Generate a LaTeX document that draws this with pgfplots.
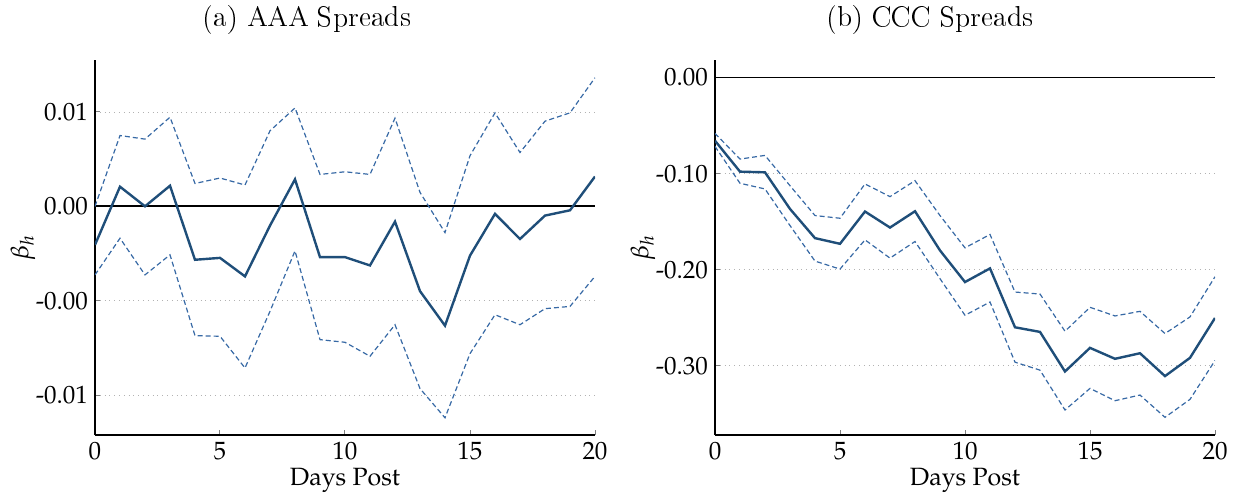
\documentclass[border=0pt]{standalone}
\usepackage[T1]{fontenc}
\usepackage{mathpazo}
\usepackage{pgfplots}
\pgfplotsset{compat=1.18}

\definecolor{mainblue}{RGB}{31,78,121}
\definecolor{dashblue}{RGB}{55,105,165}

\pgfplotsset{
 myaxis/.style={
  scale only axis, width=250pt, height=187.5pt,
  xmin=0, xmax=20, xtick={0,5,10,15,20},
  axis x line*=bottom, axis y line*=left,
  axis line style={-, line width=1pt, black},
  tick align=inside, major tick length=2.5pt,
  tick style={gray, line width=0.5pt},
  ymajorgrids, grid style={dotted, gray!60, line width=0.4pt},
  scaled y ticks=false,
  tick label style={font=\fontsize{12.5}{14}\selectfont},
  /pgf/number format/assume math mode=true,
  xlabel={Days Post}, ylabel={$\beta_h$},
  label style={font=\fontsize{12.5}{14}\selectfont},
  xlabel style={at={(axis description cs:0.5,-0.12)}, anchor=center},
  ylabel style={at={(axis description cs:-0.144,0.5)}, anchor=center},
 },
 mainline/.style={mainblue, line width=1.2pt},
 bandline/.style={dashblue, line width=0.6pt, dash pattern=on 2.5pt off 1.5pt},
}

\begin{document}
\begin{tikzpicture}
\useasboundingbox (0,0) rectangle (619.5pt,249.5pt);

\node[font=\fontfamily{lmr}\fontsize{14.2}{16}\selectfont] at (153.5pt,240pt) {(a) AAA Spreads};
\node[font=\fontfamily{lmr}\fontsize{14.2}{16}\selectfont] at (465pt,240pt) {(b) CCC Spreads};

\begin{axis}[myaxis, at={(47.5pt,32pt)}, anchor=south west,
  ymin=-0.01211, ymax=0.00775,
  ytick={-0.01,-0.005,0,0.005}, yticklabels={-0.01,-0.00,0.00,0.01}]
\addplot[black, line width=0.9pt] coordinates {(0,0) (20,0)};
\addplot[bandline] coordinates {
(0,0.0000) (1,0.00375) (2,0.00356) (3,0.00472) (4,0.00121) (5,0.00150)
(6,0.00113) (7,0.00400) (8,0.00521) (9,0.00169) (10,0.00183) (11,0.00169)
(12,0.00467) (13,0.00074) (14,-0.00139) (15,0.00268) (16,0.00495) (17,0.00285)
(18,0.00451) (19,0.00495) (20,0.00681)};
\addplot[bandline] coordinates {
(0,-0.00363) (1,-0.00169) (2,-0.00363) (3,-0.00257) (4,-0.00685) (5,-0.00688)
(6,-0.00856) (7,-0.00556) (8,-0.00236) (9,-0.00706) (10,-0.00720) (11,-0.00794)
(12,-0.00627) (13,-0.00965) (14,-0.01120) (15,-0.00780) (16,-0.00574) (17,-0.00627)
(18,-0.00542) (19,-0.00530) (20,-0.00371)};
\addplot[mainline] coordinates {
(0,-0.00204) (1,0.00104) (2,0.0000) (3,0.00109) (4,-0.00283) (5,-0.00273)
(6,-0.00371) (7,-0.00102) (8,0.00143) (9,-0.00269) (10,-0.00269) (11,-0.00313)
(12,-0.00081) (13,-0.00449) (14,-0.00632) (15,-0.00261) (16,-0.00040) (17,-0.00173)
(18,-0.00049) (19,-0.00021) (20,0.00158)};
\end{axis}

\begin{axis}[myaxis, at={(357.5pt,32pt)}, anchor=south west,
  ymin=-0.372, ymax=0.0183,
  ytick={-0.3,-0.2,-0.1,0}, yticklabels={-0.30,-0.20,-0.10,0.00}]
\addplot[black, line width=0.9pt] coordinates {(0,0) (20,0)};
\addplot[bandline] coordinates {
(0,-0.0581) (1,-0.0848) (2,-0.0810) (3,-0.1125) (4,-0.1436) (5,-0.1464)
(6,-0.1107) (7,-0.1239) (8,-0.1073) (9,-0.1436) (10,-0.1772) (11,-0.1633)
(12,-0.2232) (13,-0.2253) (14,-0.2640) (15,-0.2391) (16,-0.2481) (17,-0.2433)
(18,-0.2664) (19,-0.2491) (20,-0.2073)};
\addplot[bandline] coordinates {
(0,-0.0716) (1,-0.1100) (2,-0.1159) (3,-0.1540) (4,-0.1910) (5,-0.1993)
(6,-0.1689) (7,-0.1879) (8,-0.1706) (9,-0.2093) (10,-0.2474) (11,-0.2336)
(12,-0.2962) (13,-0.3045) (14,-0.3460) (15,-0.3235) (16,-0.3363) (17,-0.3304)
(18,-0.3536) (19,-0.3349) (20,-0.2945)};
\addplot[mainline] coordinates {
(0,-0.0657) (1,-0.0979) (2,-0.0986) (3,-0.1367) (4,-0.1671) (5,-0.1730)
(6,-0.1394) (7,-0.1561) (8,-0.1391) (9,-0.1799) (10,-0.2128) (11,-0.1986)
(12,-0.2599) (13,-0.2647) (14,-0.3059) (15,-0.2813) (16,-0.2927) (17,-0.2869)
(18,-0.3107) (19,-0.2917) (20,-0.2502)};
\end{axis}
\end{tikzpicture}
\end{document}
